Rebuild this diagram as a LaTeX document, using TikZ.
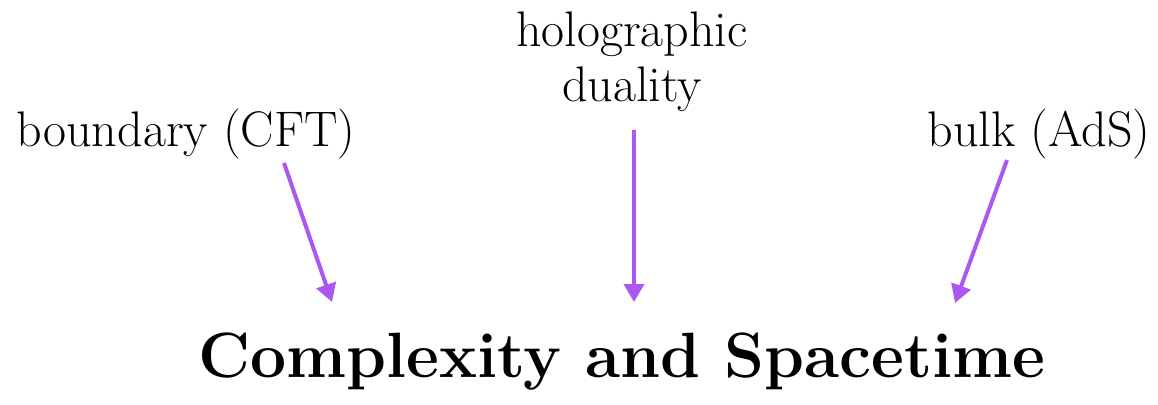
\documentclass[tikz,border=0pt]{standalone}
\usetikzlibrary{arrows.meta}
\definecolor{arrowpurple}{RGB}{172,88,240}
\begin{document}
\begin{tikzpicture}[x=1pt,y=-1pt,
  lbl/.style={inner sep=0pt,font=\fontsize{50}{54}\selectfont},
  ttl/.style={inner sep=0pt,font=\fontsize{64}{68}\selectfont\bfseries},
  arr/.style={draw=arrowpurple,line width=4pt,-{Triangle[length=18pt,width=20pt]}}]
\useasboundingbox (0,0) rectangle (1158,404);
\node[lbl,anchor=base] (holo) at (632,46) {holographic};
\node[lbl,anchor=base] (dual) at (632,101) {duality};
\node[lbl,anchor=base] (bnd) at (186,146) {boundary (CFT)};
\node[lbl,anchor=base] (bulk) at (1039,146) {bulk (AdS)};
\node[ttl,anchor=base] (title) at (622,377) {Complexity and Spacetime};
\coordinate (a1s) at (284,163);
\coordinate (a1e) at (332,302);
\coordinate (a2s) at (634,130);
\coordinate (a2e) at (634,302);
\coordinate (a3s) at (1007,160);
\coordinate (a3e) at (955,303);
\draw[arr] (a1s) -- (a1e);
\draw[arr] (a2s) -- (a2e);
\draw[arr] (a3s) -- (a3e);
\end{tikzpicture}
\end{document}
